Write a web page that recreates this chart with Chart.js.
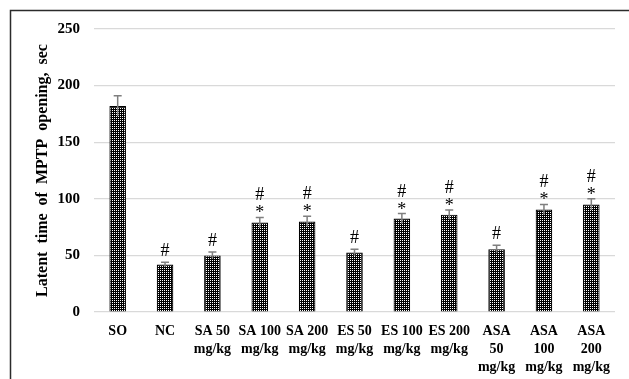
<!DOCTYPE html>
<html><head><meta charset="utf-8">
<script src="https://cdn.jsdelivr.net/npm/chart.js@4"></script>
<style>html,body{margin:0;padding:0;background:#fff;overflow:hidden;}</style>
</head><body>
<canvas id="c" width="629" height="379"></canvas>
<script>
const categories = [["SO"],["NC"],["SA 50","mg/kg"],["SA 100","mg/kg"],["SA 200","mg/kg"],["ES 50","mg/kg"],["ES 100","mg/kg"],["ES 200","mg/kg"],["ASA","50","mg/kg"],["ASA","100","mg/kg"],["ASA","200","mg/kg"]];
const means = [182, 42, 50, 79, 80, 52.5, 82.5, 86, 55.5, 90.5, 95];
const errors = [9, 2, 3, 4.5, 4.5, 3, 4.5, 4, 3.5, 4.5, 5];
const marks = ["", "#", "#", "#*", "#*", "#", "#*", "#*", "#", "#*", "#*"];
const yTicks = [0, 50, 100, 150, 200, 250];
const yTitle = "Latent  time  of  MPTP  opening,  sec";

// dotted pattern fill
const pc = document.createElement('canvas');
pc.width = 2; pc.height = 2;
const pctx = pc.getContext('2d');
pctx.fillStyle = '#000'; pctx.fillRect(0,0,2,2);
pctx.fillStyle = '#fff'; pctx.fillRect(0,0,1,1);
const ctx0 = document.getElementById('c').getContext('2d');
const pattern = ctx0.createPattern(pc, 'repeat');

const frame = {
  id: 'frame',
  afterDraw(chart) {
    const c = chart.ctx;
    c.save();
    c.strokeStyle = '#2b2b2b';
    c.lineWidth = 1.5;
    c.beginPath();
    c.moveTo(10.5, 379); c.lineTo(10.5, 10.5); c.lineTo(629, 10.5);
    c.stroke();
    c.restore();
  }
};

const errAndMarks = {
  id: 'errAndMarks',
  afterDatasetsDraw(chart) {
    const c = chart.ctx;
    const ys = chart.scales.y;
    const meta = chart.getDatasetMeta(0);
    c.save();
    meta.data.forEach((bar, i) => {
      const x = bar.x;
      const top = ys.getPixelForValue(means[i] + errors[i]);
      const bot = ys.getPixelForValue(means[i] - errors[i]);
      c.strokeStyle = '#7f7f7f';
      c.lineWidth = 1.5;
      c.beginPath();
      c.moveTo(x, top); c.lineTo(x, bot);
      c.moveTo(x - 4, top); c.lineTo(x + 4, top);
      c.stroke();
      c.fillStyle = '#000';
      c.textAlign = 'center';
      c.textBaseline = 'alphabetic';
      c.font = '18px "Liberation Serif"';
      const m = marks[i];
      if (m === '#') {
        c.fillText('#', x, top - 6);
      } else if (m === '#*') {
        c.fillText('*', x, top + 1);
        c.fillText('#', x, top - 17);
      }
    });
    c.restore();
  }
};

new Chart(document.getElementById('c'), {
  type: 'bar',
  data: {
    labels: categories,
    datasets: [{
      data: means,
      backgroundColor: pattern,
      borderColor: '#000',
      borderWidth: 1.2,
      barPercentage: 0.35,
      categoryPercentage: 1.0
    }]
  },
  options: {
    responsive: false,
    animation: false,
    events: [],
    layout: { padding: { left: 33, top: 29, right: 14, bottom: 0 } },
    plugins: { legend: { display: false }, tooltip: { enabled: false } },
    scales: {
      x: {
        grid: { display: false, drawTicks: false },
        border: { display: false },
        ticks: {
          color: '#000',
          font: { family: '"Liberation Serif"', size: 14, weight: 'bold', lineHeight: 1.3 },
          padding: 10, maxRotation: 0, autoSkip: false
        },
        afterFit(scale) { scale.height = 67; }
      },
      y: {
        min: 0, max: 250,
        afterBuildTicks(scale) { scale.ticks = yTicks.map(v => ({ value: v })); },
        grid: { color: '#d9d9d9', lineWidth: 1.2, drawTicks: false },
        border: { display: false },
        ticks: {
          color: '#000',
          font: { family: '"Liberation Serif"', size: 15, weight: 'bold' },
          padding: 14
        },
        title: {
          display: true, text: yTitle, color: '#000',
          font: { family: '"Liberation Serif"', size: 16, weight: 'bold' },
          padding: 0
        },
        afterFit(scale) { scale.width = 61; }
      }
    }
  },
  plugins: [errAndMarks, frame]
});
</script>
</body></html>
